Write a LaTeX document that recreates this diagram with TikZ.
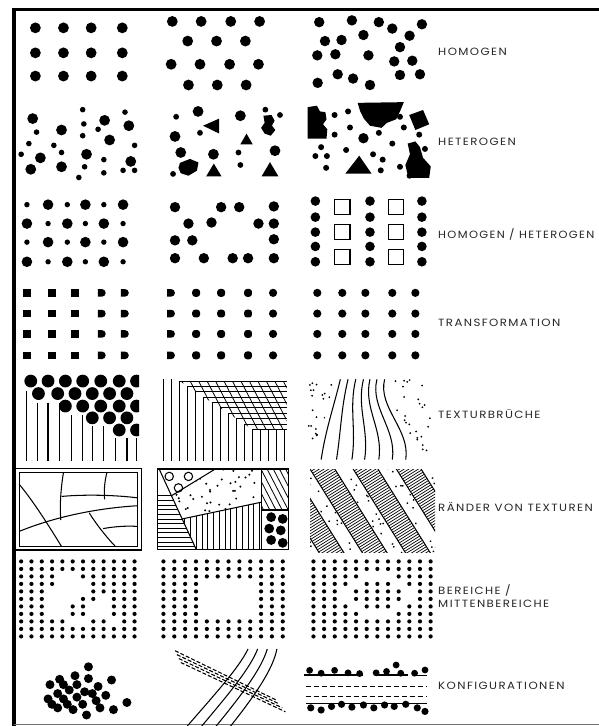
\documentclass[tikz,border=0pt]{standalone}
\usepackage{fontspec}
\newfontfamily\labfont[LetterSpace=12]{Poppins}
\begin{document}
\begin{tikzpicture}[x=1pt,y=-1pt,
  lab/.style={font=\labfont\fontsize{10.5}{13}\selectfont, text=black!85, anchor=west, inner sep=0pt, xscale=1.12, transform shape, align=left},
  rowz/.style={x=0.3846pt,y=-0.3571pt},
  thin line/.style={line width=0.8pt},
  mid line/.style={line width=1.05pt},
  sq/.style={fill=black}
]
\useasboundingbox (0,0) rectangle (599,726);
\clip (0,0) rectangle (599,726);
% frame
\draw[line width=4pt] (14,8) -- (14,726);
\draw[line width=3pt] (12,9.5) -- (599,9.5);
\draw[black!55, line width=1pt] (14,724.5) -- (599,724.5);

% ===== Row 1 HOMOGEN =====
\begin{scope}[shift={(0pt,0pt)}, rowz]
  \foreach \x in {92,165,237,318}{\foreach \y in {78,148,213}{\fill (\x,\y) circle[radius=5.4pt];}}
  \foreach \x in {448,523,600,675}{\fill (\x,60) circle[radius=5.4pt]; \fill (\x-3,180) circle[radius=5.4pt];}
  \foreach \x in {488,563,638}{\fill (\x,115) circle[radius=5.4pt]; \fill (\x+2,238) circle[radius=5.4pt];}
  \foreach \p in {(830,62),(915,57),(985,62),(1020,80),(1097,68),(1065,100),(945,98),(845,115),(888,112),(825,155),(872,152),(958,155),(1040,132),(1025,172),(1072,170),(1040,210),(1092,208),(878,208),(918,220),(962,238),(826,232)}
    {\fill \p circle[radius=5.2pt];}
\end{scope}
\node[lab] (l1) at (438,52) {HOMOGEN};

% ===== Row 2 HETEROGEN =====
\begin{scope}[shift={(0pt,-90pt)}, rowz]
  \foreach \p in {(85,80),(105,190),(80,222),(160,112),(160,215),(225,180),(272,85),(285,140),(335,100),(340,200)}
    {\fill \p circle[radius=5.4pt];}
  \foreach \p in {(95,118),(75,150),(55,180),(140,155),(160,175),(205,245),(215,55),(218,95),(215,128),(220,215),(270,195),(270,232),(325,62),(350,155),(320,225),(350,225),(255,110)}
    {\fill \p circle[radius=2.8pt];}
  % panel 2
  \foreach \p in {(515,60),(455,130),(625,72),(470,175),(555,180),(715,170)}
    {\fill \p circle[radius=5.4pt];}
  \foreach \p in {(458,75),(520,120),(690,55),(728,70),(620,175),(625,210),(450,235)}
    {\fill \p circle[radius=2.9pt];}
  \fill (528,100) -- (570,80) -- (570,122) -- cycle;
  \fill (625,152) -- (657,152) -- (641,122) -- cycle;
  \fill (536,242) -- (576,242) -- (556,206) -- cycle;
  \fill (680,242) -- (724,242) -- (702,202) -- cycle;
  \fill (685,72) -- (706,70) -- (714,86) -- (707,100) -- (716,112) -- (704,128) -- (688,122) -- (679,106) -- (688,92) -- cycle;
  \fill (468,204) -- (494,193) -- (516,203) -- (512,226) -- (490,240) -- (470,233) -- (464,218) -- cycle;
  % panel 3
  \fill (800,48) -- (824,44) -- (832,60) -- (846,62) -- (849,82) -- (840,96) -- (851,110) -- (849,136) -- (800,136) -- cycle;
  \fill (930,36) -- (1050,34) -- (1040,60) -- (1030,82) -- (1006,92) -- (992,106) -- (962,100) -- (946,80) -- (936,58) -- cycle;
  \fill (1064,70) -- (1100,56) -- (1116,96) -- (1080,112) -- cycle;
  \fill (1060,150) -- (1080,144) -- (1092,160) -- (1100,190) -- (1120,214) -- (1116,246) -- (1062,246) -- (1054,210) -- (1066,180) -- cycle;
  \fill (898,234) -- (966,234) -- (934,184) -- cycle;
  \fill (945,135) circle[radius=5.2pt];
  \foreach \p in {(870,70),(905,60),(1040,75),(1050,105),(870,125),(910,105),(985,120),(1090,125),(835,160),(900,168),(970,180),(1020,150),(995,195),(820,185),(850,185),(848,218),(990,225),(1040,215),(1065,240),(1105,165)}
    {\fill \p circle[radius=3pt];}
\end{scope}
\node[lab] (l2) at (438,142) {HETEROGEN};

% ===== Row 3 HOMOGEN / HETEROGEN =====
\begin{scope}[shift={(0pt,-185pt)}, rowz]
  \foreach \y [count=\j] in {55,108,160,215}{
    \foreach \x [count=\i] in {70,125,175,222,270,320}{
      \pgfmathsetmacro\rr{mod(\i+\j,2)==1 ? 5.3 : 2.7}
      \fill (\x,\y) circle[radius=\rr pt];}}
  \foreach \p in {(455,62),(575,62),(622,62),(712,60),(490,108),(550,105),(672,108),(712,108),(455,155),(500,155),(712,152),(455,205),(530,205),(605,205),(645,205),(712,205)}
    {\fill \p circle[radius=5.2pt];}
  \foreach \x in {820,962,1097}{\foreach \y in {45,90,132,172,215}{\fill (\x,\y) circle[radius=4.8pt];}}
  \foreach \x in {890,1030}{\foreach \y in {62,132,202}{\draw[mid line] (\x-20,\y-21) rectangle (\x+20,\y+21);}}
\end{scope}
\node[lab, xscale=0.97] (l3) at (438,234) {HOMOGEN / HETEROGEN};

% ===== Row 4 TRANSFORMATION =====
\begin{scope}[shift={(0pt,-275pt)}, rowz]
  \foreach \y in {50,108,165,225}{
    \foreach \x in {70,135,195}{\fill (\x-10.5,\y-10.5) rectangle (\x+10.5,\y+10.5);}
    \foreach \x in {265,325,445}{\begin{scope}[shift={(\x,\y)}]
      \fill (-4pt,-3.8pt) -- (0pt,-3.8pt) arc[start angle=-90,end angle=90,radius=3.8pt] -- (-4pt,3.8pt) -- cycle;\end{scope}}
    \foreach \x in {510,575,645}{\begin{scope}[shift={(\x,\y)}]
      \fill[rounded corners=2.8pt] (-3.9pt,-3.9pt) rectangle (3.9pt,3.9pt);\end{scope}}
    \foreach \x in {710,825,890,950,1020,1080}{\fill (\x,\y) circle[radius=4.1pt];}
  }
\end{scope}
\node[lab] (l4) at (438,323) {TRANSFORMATION};

% ===== Row 5 TEXTURBRUECHE =====
\begin{scope}[shift={(0pt,-365pt)}, rowz]
  \begin{scope}
    \clip (40,20) rectangle (362,280);
    \foreach \x in {80,125,170,215,262,310,355}{\fill (\x,45) circle[radius=6.4pt];}
    \foreach \x in {100,150,195,240,285,330}{\fill (\x,80) circle[radius=6.4pt];}
    \foreach \x in {170,215,262,310,355}{\fill (\x,115) circle[radius=6.4pt];}
    \foreach \x in {240,285,330}{\fill (\x,148) circle[radius=6.4pt];}
    \foreach \x in {310,355}{\fill (\x,182) circle[radius=6.4pt];}
    \foreach \x/\t in {68/72,98/105,125/105,155/105,185/140,215/140,240/172,270/172,300/205,330/205,355/205}
      {\draw[line width=1.2pt] (\x,\t) -- (\x,270);}
  \end{scope}
  \begin{scope}[thin line]
    \foreach \k in {0,1}{\draw (425+21*\k,40) -- (425+21*\k,270);}
    \foreach \k in {2,...,11}{\draw (425+21*\k,270) -- (425+21*\k,{45+15*(\k-2)}) -- (745,{45+15*(\k-2)});}
    \foreach \k in {12,...,15}{\draw (425+21*\k,270) -- (425+21*\k,180);}
    \clip (467,45) -- (745,45) -- (745,180) -- (656,180) -- cycle;
    \foreach \a in {360,382,...,760}{\draw (\a,40) -- (\a+70,185);}
  \end{scope}
  \foreach \t/\b in {885/835,905/875,925/915,945/948,962/985,980/1020,1000/1055}
    {\draw[mid line] (\t,40) .. controls (\t-18,120) and (\b+12,180) .. (\b,265);}
  \begin{scope}
    \clip (800,40) -- (872,40) .. controls (852,120) and (833,180) .. (822,265) -- (800,265) -- cycle;
    \pgfmathsetseed{11}
    \foreach \i in {1,...,30}{\pgfmathsetmacro\rx{800+70*rnd}\pgfmathsetmacro\ry{40+225*rnd}\fill (\rx,\ry) circle[radius=1pt];}
  \end{scope}
  \begin{scope}
    \clip (1014,40) .. controls (996,120) and (1078,180) .. (1068,265) -- (1120,265) -- (1120,40) -- cycle;
    \pgfmathsetseed{23}
    \foreach \i in {1,...,40}{\pgfmathsetmacro\rx{1000+120*rnd}\pgfmathsetmacro\ry{40+225*rnd}\fill (\rx,\ry) circle[radius=1pt];}
  \end{scope}
\end{scope}
\node[lab] (l5) at (438,414) {TEXTURBRÜCHE};

% ===== Row 6 RAENDER =====
\begin{scope}[shift={(0pt,-460pt)}, rowz]
  \draw[mid line] (40,25) rectangle (368,252);
  \draw[mid line] (50,35) rectangle (358,242);
  \begin{scope}[mid line]
    \draw (50,68) .. controls (90,120) and (130,190) .. (160,242);
    \draw (50,200) .. controls (140,160) and (250,135) .. (358,128);
    \draw (165,35) .. controls (158,80) and (155,130) .. (158,168);
    \draw (278,35) .. controls (272,60) and (270,85) .. (272,110);
    \draw (160,102) .. controls (220,96) and (300,98) .. (358,106);
    \draw (232,148) .. controls (250,180) and (280,220) .. (300,242);
    \draw (268,192) .. controls (300,186) and (330,184) .. (358,186);
  \end{scope}
  % panel 2
  \draw[line width=1.2pt] (410,25) rectangle (750,250);
  \begin{scope}[mid line]
    \draw (680,25) -- (680,250);
    \draw (680,140) -- (750,140);
    \draw (415,28) -- (510,250);
    \draw (446,100) -- (560,25);
    \draw (474,165) -- (680,118);
  \end{scope}
  \begin{scope}
    \clip (680,25) rectangle (750,140);
    \foreach \a in {580,596,...,760}{\draw[thin line] (\a,20) -- (\a+60,145);}
  \end{scope}
  \begin{scope}
    \clip (680,140) rectangle (750,250);
    \foreach \p in {(705,160),(735,165),(700,192),(730,197),(705,224),(735,232)}{\fill \p circle[radius=4.9pt];}
  \end{scope}
  \foreach \p in {(440,46),(490,46),(464,78)}{\draw[mid line] \p circle[radius=4.2pt];}
  \begin{scope}
    \clip (410,25) -- (415,28) -- (510,250) -- (410,250) -- cycle;
    \foreach \y in {100,113,...,250}{\draw[thin line] (410,\y) -- (520,\y);}
  \end{scope}
  \begin{scope}
    \clip (474,165) -- (680,118) -- (680,250) -- (510,250) -- cycle;
    \foreach \x in {480,495,...,680}{\draw[thin line] (\x,110) -- (\x,250);}
  \end{scope}
  \begin{scope}
    \clip (446,100) -- (560,25) -- (680,25) -- (680,118) -- (474,165) -- cycle;
    \pgfmathsetseed{5}
    \foreach \i in {1,...,50}{\pgfmathsetmacro\rx{446+234*rnd}\pgfmathsetmacro\ry{25+140*rnd}\fill (\rx,\ry) circle[radius=1.1pt];}
  \end{scope}
\end{scope}
% panel 3 bands
\begin{scope}
  \clip (310,469) rectangle (435,552);
  \begin{scope}[shift={(310,469)}, rotate=-58, x=1pt, y=1pt]
    \foreach \k in {-1,0,1,2}{
      \draw[line width=1pt] (-60,36.6*\k) -- (200,36.6*\k);
      \draw[line width=1pt] (-60,36.6*\k+21) -- (200,36.6*\k+21);
      \foreach \s in {-60,-57.5,...,200}{\draw[line width=0.7pt] (\s,36.6*\k) -- (\s,36.6*\k+21);}
    }
    \pgfmathsetseed{3}
    \foreach \k in {-2,-1,0,1,2}{
      \foreach \i in {1,...,30}{\pgfmathsetmacro\rx{-20+180*rnd}\pgfmathsetmacro\ry{36.6*\k+22.5+12.6*rnd}\fill (\rx,\ry) circle[radius=1pt];}}
  \end{scope}
\end{scope}
\node[lab] (l6) at (438,507) {RÄNDER VON TEXTUREN};

% ===== Row 7 BEREICHE =====
\begin{scope}[shift={(0pt,-555pt)}, rowz]
  \foreach \r/\cols in {1/{1,...,12},2/{1,...,12},3/{1,2,3,4,7,8,9,10,11,12},4/{1,2,3,4,8,9,10,11,12},5/{1,2,3,8,9,10,11,12},6/{1,2,3,7,8,10,11,12},7/{1,2,3,6,7,10,11,12},8/{1,2,3,6,7,10,11,12},9/{1,2,3,4,5,8,9,11,12},10/{1,...,12},11/{1,...,12}}
    {\foreach \c in \cols {\fill ({55+26.8*(\c-1)},{18+21*(\r-1)}) circle[radius=2.1pt];}}
  \foreach \r/\cols in {1/{1,...,12},2/{1,...,12},3/{1,...,12},4/{1,2,3,4,10,11,12},5/{1,2,3,4,10,11,12},6/{1,2,3,4,10,11,12},7/{1,2,3,4,10,11,12},8/{1,2,3,4,10,11,12},9/{1,...,12},10/{1,...,12},11/{1,...,12}}
    {\foreach \c in \cols {\fill ({425+28.2*(\c-1)},{18+21*(\r-1)}) circle[radius=2.1pt];}}
  \foreach \r/\cols in {1/{1,...,12},2/{1,...,12},3/{1,2,3,4,5,9,10,11,12},4/{1,2,3,4,6,7,8,10,11,12},5/{1,2,3,5,6,7,8,9,11,12},6/{1,2,3,5,6,7,8,9,11,12},7/{1,2,3,4,6,7,8,10,11,12},8/{1,2,3,4,5,9,10,11,12},9/{1,...,12},10/{1,...,12},11/{1,...,12}}
    {\foreach \c in \cols {\fill ({815+27.7*(\c-1)},{18+21*(\r-1)}) circle[radius=2.1pt];}}
\end{scope}
\node[lab] (l7) at (438,596) {BEREICHE /\\MITTENBEREICHE};

% ===== Row 8 KONFIGURATIONEN =====
\begin{scope}[shift={(0pt,-640pt)}, rowz]
  \foreach \p in {(230,75),(195,100),(230,108),(155,110),(290,112),(130,125),(165,125),(200,125),(255,130),(180,140),(220,145),(150,150),(240,150),(275,155),(125,165),(165,165),(200,160),(250,170),(135,180),(175,180),(215,180),(190,195),(260,190),(295,195),(330,175),(225,210),(150,190)}
    {\fill \p circle[radius=4.5pt];}
  \foreach \i in {0,1,2,3}{
    \draw[mid line] (470+38*\i,262) .. controls (560+36*\i,150) and (620+30*\i,80) .. (645+25*\i,25);}
  \foreach \i in {0,1,2,3}{
    \draw[mid line, dash pattern=on 4pt off 2pt] (455+5*\i,30+11*\i) -- (718+8*\i,168+11*\i);}
  % panel 3
  \draw[mid line] (790,98) -- (945,98);
  \draw[mid line] (975,98) -- (1062,98);
  \draw[mid line] (1076,100) -- (1110,100);
  \foreach \p in {(805,85),(835,93),(870,85),(905,92),(935,94),(978,92),(1005,88),(1030,70),(1042,93),(1078,93),(1105,84)}
    {\fill \p circle[radius=3.4pt];}
  \draw[mid line, dash pattern=on 5pt off 3pt] (795,130) -- (1110,130);
  \draw[mid line, dash pattern=on 5pt off 3pt] (795,158) -- (1110,158);
  \draw[mid line] (795,178) -- (1110,178);
  \foreach \p in {(808,190),(835,196),(862,186),(888,180),(915,188),(945,182),(972,190),(1000,182),(1025,186),(1055,180),(1085,190),(1105,200)}
    {\fill \p circle[radius=3.6pt];}
\end{scope}
\node[lab] (l8) at (438,686) {KONFIGURATIONEN};
\end{tikzpicture}
\end{document}
